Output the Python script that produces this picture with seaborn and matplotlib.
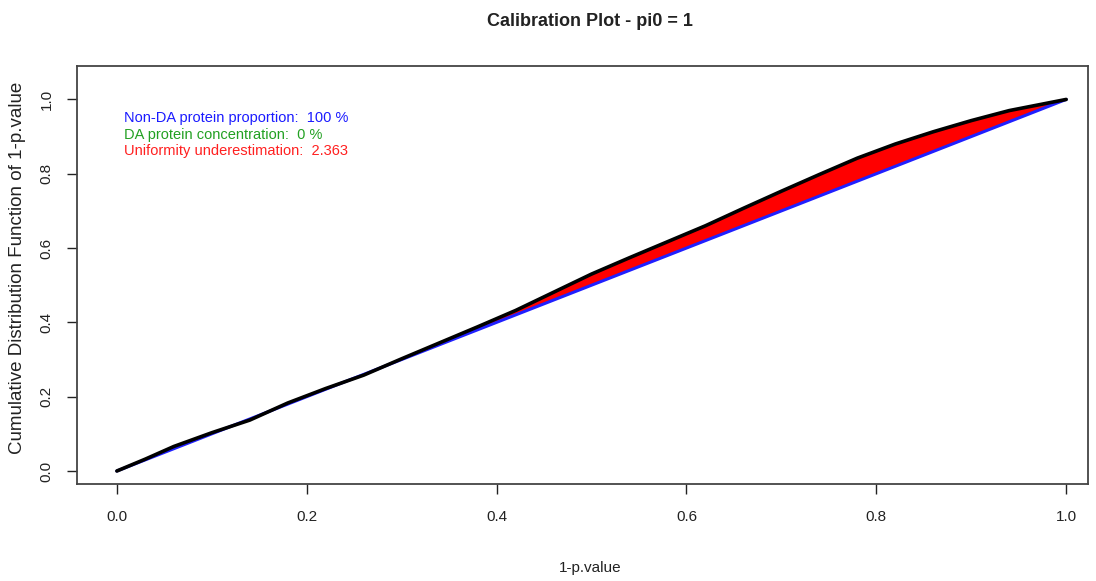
import numpy as np
import pandas as pd
import matplotlib.pyplot as plt
import seaborn as sns

# values (ECDF of 1-p.value)
one_minus_p = [0.00, 0.03, 0.06, 0.10, 0.14, 0.18, 0.22, 0.26, 0.30, 0.34, 0.38,
               0.42, 0.46, 0.50, 0.54, 0.58, 0.62, 0.66, 0.70, 0.74, 0.78, 0.82,
               0.86, 0.90, 0.94, 0.97, 1.00]
cdf_values = [0.000, 0.032, 0.066, 0.103, 0.137, 0.183, 0.222, 0.258, 0.302, 0.345, 0.388,
              0.432, 0.481, 0.530, 0.574, 0.617, 0.660, 0.707, 0.753, 0.798, 0.842, 0.880,
              0.913, 0.943, 0.970, 0.985, 1.000]
diag = [0.0, 1.0]
ticks = [0.0, 0.2, 0.4, 0.6, 0.8, 1.0]
tick_labels = ['0.0', '0.2', '0.4', '0.6', '0.8', '1.0']

info_lines = ['Non-DA protein proportion:  100 %',
              'DA protein concentration:  0 %',
              'Uniformity underestimation:  2.363']
info_colors = ['#1a1aff', '#22a022', '#ff2020']

df = pd.DataFrame({'x': one_minus_p, 'y': cdf_values})

sns.set_style("ticks")
plt.rcParams['font.family'] = ['Liberation Sans', 'DejaVu Sans']

fig = plt.figure(figsize=(10.96, 5.81), dpi=100)
ax = fig.add_axes([77 / 1096, 1 - 484 / 581, (1088 - 77) / 1096, (484 - 66) / 581])

x = np.array(one_minus_p)
y = np.array(cdf_values)
ax.fill_between(x, x, y, where=y >= x, interpolate=True, color='red', lw=0)
sns.lineplot(x=diag, y=diag, ax=ax, color='#2020ff', lw=2.2)
sns.lineplot(data=df, x='x', y='y', ax=ax, color='black', lw=2.6)

ax.set_xlim(-0.042, 1.023)
ax.set_ylim(-0.035, 1.09)
ax.set_xticks(ticks)
ax.set_xticklabels(tick_labels)
ax.set_yticks(ticks)
ax.set_yticklabels(tick_labels, rotation=90, va='center')
ax.tick_params(axis='both', direction='out', length=7, width=1, colors='#222222',
               labelsize=11, labelcolor='#222222')
ax.tick_params(axis='x', pad=12)
ax.tick_params(axis='y', pad=10)
for s in ax.spines.values():
    s.set_visible(True)
    s.set_color('#444444')
    s.set_linewidth(1.3)

ax.set_xlabel('')
ax.set_ylabel('')
fig.text(18 / 1096, 1 - 268 / 581, 'Cumulative Distribution Function of 1-p.value',
         rotation=90, ha='center', va='center', fontsize=13.5, color='#222222')
fig.text(590 / 1096, 1 - 568 / 581, '1-p.value', ha='center', va='center',
         fontsize=11, color='#222222')
fig.text(590 / 1096, 1 - 22 / 581, 'Calibration Plot - pi0 = 1', ha='center', va='center',
         fontsize=13, fontweight='bold', color='#222222')

for i, (txt, col) in enumerate(zip(info_lines, info_colors)):
    ax.text(0.008, 0.95 - i * 0.045, txt, color=col, fontsize=10.5,
            ha='left', va='center')

fig.savefig('out.png', dpi=100)
